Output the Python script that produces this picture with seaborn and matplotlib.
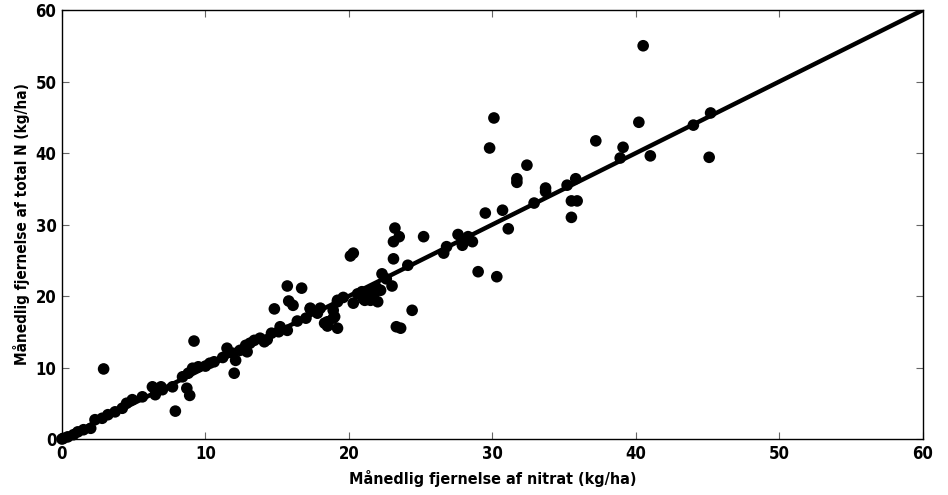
import numpy as np
import pandas as pd
import seaborn as sns
import matplotlib.pyplot as plt

# monthly removal: nitrate (x) vs total N (y), kg/ha
nitrat = [
    0.0, 0.1, 0.4, 0.8, 1.1, 1.5, 2.0, 2.3, 2.8, 3.2, 3.7, 4.2, 4.5, 4.9, 5.6,
    6.5, 7.0, 7.7, 8.7, 8.4, 8.8, 9.1, 9.5, 10.3, 2.9, 7.9, 8.9, 6.3, 6.9, 9.2,
    12.0, 11.5, 11.9, 12.1, 12.4, 12.8, 12.9, 13.1, 13.4, 13.8, 14.1, 14.3, 14.6,
    15.1, 15.2, 15.7, 14.8, 15.7, 15.8, 16.1, 16.7, 17.3, 17.3, 17.8, 18.0, 18.3,
    18.5, 18.9, 19.0, 19.2, 19.2, 18.5, 18.9, 19.2, 20.3, 20.1, 20.3, 20.9, 21.0,
    21.1, 21.3, 21.5, 21.5, 21.7, 21.7, 22.0, 22.2, 22.3, 23.0, 23.1, 23.2, 23.5,
    23.1, 23.3, 23.6, 24.1, 24.4, 25.2, 26.6, 26.8, 27.6, 27.9, 28.3, 28.6, 29.0,
    29.5, 29.8, 30.1, 30.3, 30.7, 31.1, 31.7, 31.7, 32.4, 32.9, 33.7, 33.7, 35.2,
    35.5, 35.5, 35.8, 35.9, 37.2, 38.9, 39.1, 40.2, 40.5, 41.0, 44.0, 45.1, 45.2,
    10.0, 10.6, 11.2, 16.4, 17.0, 19.6, 20.6, 21.9, 22.6,
]
total_n = [
    0.0, 0.1, 0.3, 0.6, 1.0, 1.3, 1.5, 2.7, 2.9, 3.4, 3.8, 4.3, 5.0, 5.5, 5.9,
    6.2, 6.9, 7.3, 7.1, 8.7, 9.2, 9.9, 10.1, 10.6, 9.8, 3.9, 6.1, 7.3, 7.3, 13.7,
    9.2, 12.7, 12.0, 11.0, 12.4, 13.1, 12.2, 13.4, 13.8, 14.1, 13.6, 13.9, 14.8,
    15.0, 15.7, 15.2, 18.2, 21.4, 19.3, 18.7, 21.1, 18.2, 18.3, 17.6, 18.3, 16.2,
    15.8, 18.0, 17.1, 19.4, 15.5, 16.4, 16.9, 19.2, 26.0, 25.6, 19.0, 20.6, 19.6,
    19.4, 19.9, 20.8, 19.4, 20.1, 20.8, 19.2, 20.8, 23.1, 21.4, 27.6, 29.5, 28.3,
    25.2, 15.7, 15.5, 24.3, 18.0, 28.3, 26.0, 26.9, 28.6, 27.1, 28.3, 27.6, 23.4,
    31.6, 40.7, 44.9, 22.7, 32.0, 29.4, 36.4, 35.9, 38.3, 33.0, 35.1, 34.6, 35.5,
    33.3, 31.0, 36.4, 33.3, 41.7, 39.3, 40.8, 44.3, 55.0, 39.6, 43.9, 39.4, 45.6,
    10.2, 10.8, 11.4, 16.5, 16.9, 19.8, 20.3, 21.2, 22.4,
]
line_x = [0, 60]
line_y = [0, 60]

df = pd.DataFrame({'nitrat': nitrat, 'total_n': total_n})

sns.set_style('white')
plt.rcParams['font.family'] = ['DejaVu Sans']
plt.rcParams['font.stretch'] = 'condensed'
plt.rcParams['text.color'] = 'black'
plt.rcParams['axes.labelcolor'] = 'black'
plt.rcParams['xtick.labelcolor'] = 'black'
plt.rcParams['ytick.labelcolor'] = 'black'

fig = plt.figure(figsize=(9.48, 4.95), dpi=100)
ax = fig.add_axes([0.0654, 0.1131, 0.9082, 0.8667])

sns.lineplot(x=line_x, y=line_y, ax=ax, color='black', linewidth=3.2, zorder=2)
sns.scatterplot(data=df, x='nitrat', y='total_n', ax=ax, color='black',
                s=70, edgecolor='none', zorder=3, clip_on=False)

ax.set_xlim(0, 60)
ax.set_ylim(0, 60)
ax.set_xticks(range(0, 61, 10))
ax.set_yticks(range(0, 61, 10))
ax.tick_params(direction='in', length=5, width=0.8, color='#666666',
               top=True, right=True, bottom=True, left=True, pad=4)
for lab in ax.get_xticklabels() + ax.get_yticklabels():
    lab.set_fontsize(12)
    lab.set_fontweight('bold')
    lab.set_fontstretch('condensed')
for sp in ax.spines.values():
    sp.set_visible(True)
    sp.set_color('black')
    sp.set_linewidth(1.0)

ax.set_xlabel('Månedlig fjernelse af nitrat (kg/ha)', fontsize=11.5,
              fontweight='bold', fontstretch='condensed', labelpad=5)
ax.set_ylabel('Månedlig fjernelse af total N (kg/ha)', fontsize=11,
              fontweight='bold', fontstretch='condensed', labelpad=4)

fig.savefig('out.png', dpi=100)
